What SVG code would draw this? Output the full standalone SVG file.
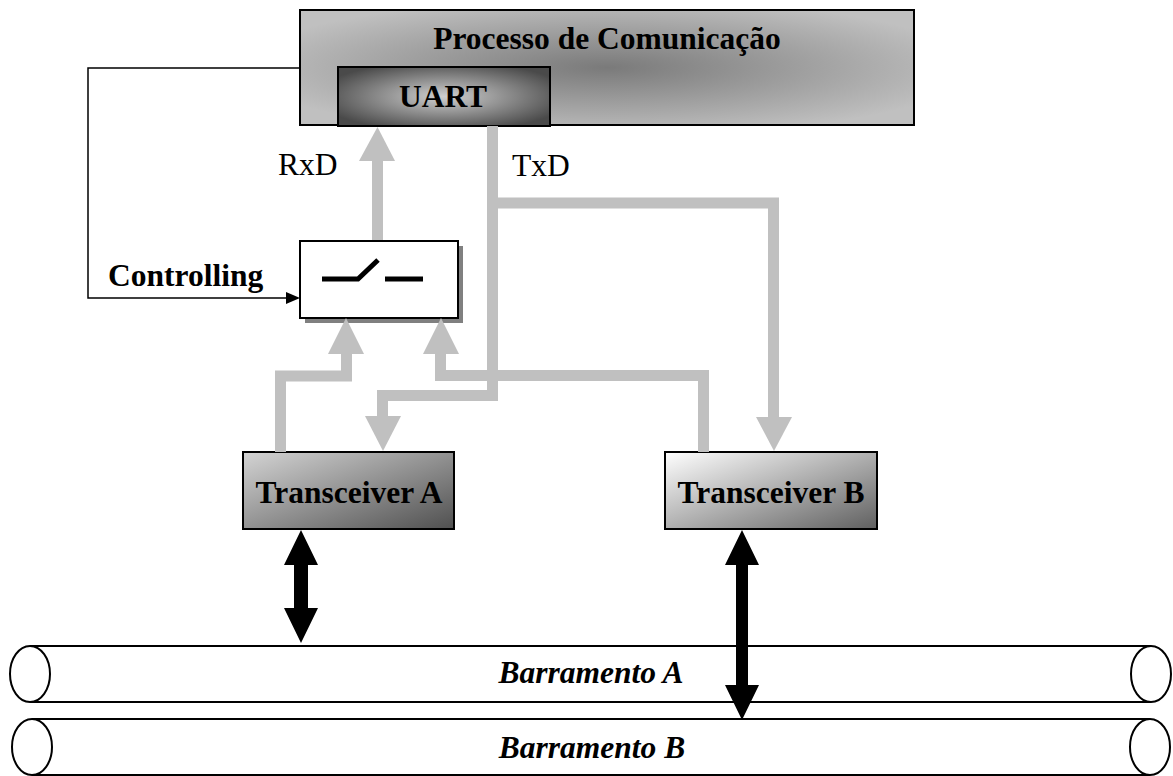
<svg xmlns="http://www.w3.org/2000/svg" width="1173" height="776" viewBox="0 0 1173 776">
<style>
.t{font-family:"Liberation Serif","Times New Roman",serif;font-size:31.5px;fill:#000}
.b{font-weight:bold}
.i{font-style:italic}
.box{stroke:#000;stroke-width:2}
.g{fill:none;stroke:#c0c0c0;stroke-width:11;stroke-linejoin:miter}
.gh{fill:#c0c0c0}
.k{fill:#000}
.bus{fill:none;stroke:#000;stroke-width:2}
</style>
<defs>
<radialGradient id="gProc" cx="0.5" cy="0.5" r="0.6" gradientTransform="translate(0.5 0.5) scale(1 1) translate(-0.5 -0.5)">
<stop offset="0" stop-color="#7a7a7a"/>
<stop offset="1" stop-color="#c0c0c0"/>
</radialGradient>
<radialGradient id="gUart" cx="0.5" cy="0.5" r="0.6">
<stop offset="0" stop-color="#d0d0d0"/>
<stop offset="1" stop-color="#4a4a4a"/>
</radialGradient>
<linearGradient id="gA" x1="0" y1="0" x2="1" y2="1">
<stop offset="0" stop-color="#d4d4d4"/>
<stop offset="1" stop-color="#505050"/>
</linearGradient>
<linearGradient id="gB" x1="0" y1="0" x2="1" y2="1">
<stop offset="0" stop-color="#ffffff"/>
<stop offset="1" stop-color="#606060"/>
</linearGradient>
</defs>

<g id="barramento-a">
<line class="bus" x1="30" y1="646" x2="1151" y2="646"/>
<line class="bus" x1="30" y1="702" x2="1151" y2="702"/>
<ellipse class="bus" cx="30" cy="674" rx="20" ry="28"/>
<ellipse class="bus" cx="1151" cy="674" rx="20" ry="28" style="fill:#fff"/>
<text class="t b i" x="591" y="683" text-anchor="middle">Barramento A</text>
</g>
<g id="barramento-b">
<line class="bus" x1="32" y1="719" x2="1150" y2="719"/>
<line class="bus" x1="32" y1="775" x2="1150" y2="775"/>
<ellipse class="bus" cx="32" cy="747" rx="20" ry="28"/>
<ellipse class="bus" cx="1150" cy="747" rx="20" ry="28" style="fill:#fff"/>
<text class="t b i" x="592" y="758" text-anchor="middle">Barramento B</text>
</g>

<g id="processo">
<rect class="box" x="300" y="10" width="614" height="115" fill="url(#gProc)"/>
<text class="t b" x="607" y="49" text-anchor="middle">Processo de Comunicação</text>
</g>
<g id="uart">
<rect class="box" x="338" y="67" width="212" height="59" fill="url(#gUart)"/>
<text class="t b" x="443" y="107" text-anchor="middle">UART</text>
</g>

<g id="switch">
<rect x="305" y="246" width="158" height="77" fill="#808080"/>
<rect class="box" x="300" y="241" width="158" height="77" fill="#fff"/>
<polyline points="322,279 358,279 378,260" fill="none" stroke="#000" stroke-width="5"/>
<line x1="385" y1="279" x2="423" y2="279" stroke="#000" stroke-width="5"/>
</g>

<g id="transceiver-a">
<rect class="box" x="243" y="452" width="211" height="77" fill="url(#gA)"/>
<text class="t b" x="349" y="503" text-anchor="middle">Transceiver A</text>
</g>
<g id="transceiver-b">
<rect class="box" x="665" y="452" width="212" height="77" fill="url(#gB)"/>
<text class="t b" x="771" y="503" text-anchor="middle">Transceiver B</text>
</g>

<g id="connectors">
<path class="g" d="M377.5,240 V160"/>
<polygon class="gh" points="359,161 395,161 377.5,127"/>
<path class="g" d="M492.5,126 V395.5 H382.5 V417"/>
<polygon class="gh" points="365,416 401,416 383,451"/>
<path class="g" d="M492.5,203 H773.5 V418"/>
<polygon class="gh" points="756,417 792,417 774,451"/>
<path class="g" d="M703.5,452 V375.5 H440.5 V353"/>
<polygon class="gh" points="423,354 459,354 441,318"/>
<path class="g" d="M280.5,452 V376 H346.5 V353"/>
<polygon class="gh" points="328,354 364,354 346,318"/>
<polyline points="300,68 88,68 88,298 287,298" fill="none" stroke="#000" stroke-width="1.5"/>
<polygon class="k" points="286,292 300,298 286,304"/>
<polygon class="k" points="301,530 318,565 308,565 308,608 318,608 301,643 284,608 294,608 294,565 284,565"/>
<polygon class="k" points="742,530 759,565 748,565 748,685 759,685 742,720 725,685 736,685 736,565 725,565"/>
<text class="t" x="278" y="175">RxD</text>
<text class="t" x="512" y="176">TxD</text>
<text class="t b" x="108" y="286">Controlling</text>
</g>
</svg>
